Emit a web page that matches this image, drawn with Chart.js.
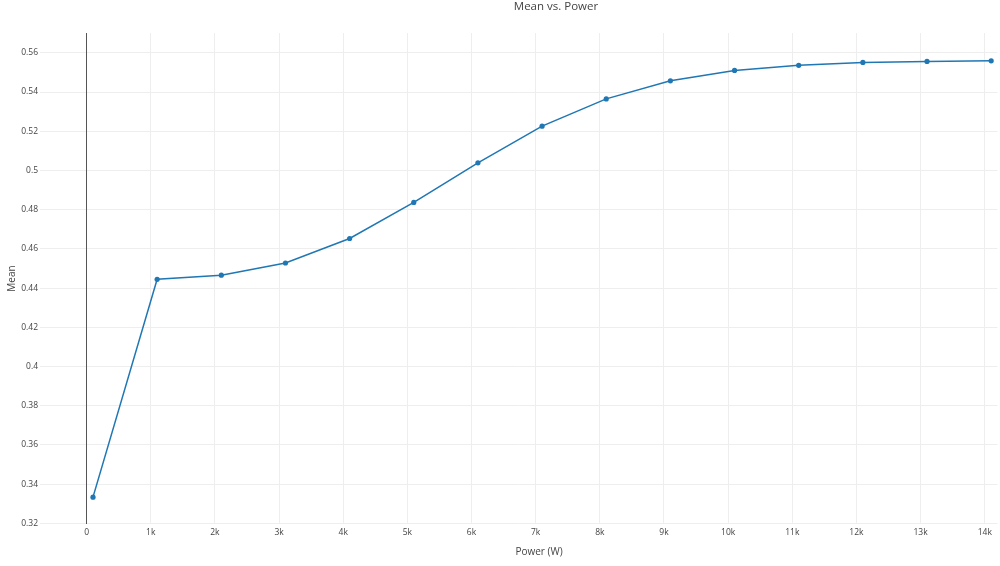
<!DOCTYPE html>
<html>
<head>
<meta charset="utf-8">
<script src="https://cdn.jsdelivr.net/npm/chart.js@4.4.1/dist/chart.umd.min.js"></script>
<style>
html,body{margin:0;padding:0;background:#fff;}
#wrap{width:1000px;height:566px;position:relative;}
</style>
</head>
<body>
<div id="wrap"><canvas id="c" width="1000" height="566"></canvas></div>
<script>
// ---- data ----
const powerW = [100, 1100, 2100, 3100, 4100, 5100, 6100, 7100, 8100, 9100, 10100, 11100, 12100, 13100, 14100];
const meanValues = [0.3334, 0.4445, 0.4466, 0.4528, 0.4653, 0.4837, 0.5039, 0.5226, 0.5365, 0.5457, 0.5510, 0.5536, 0.5551, 0.5556, 0.5559];
const xTickValues = [0, 1000, 2000, 3000, 4000, 5000, 6000, 7000, 8000, 9000, 10000, 11000, 12000, 13000, 14000];
const xTickLabels = ['0', '1k', '2k', '3k', '4k', '5k', '6k', '7k', '8k', '9k', '10k', '11k', '12k', '13k', '14k'];
const yTickValues = [0.32, 0.34, 0.36, 0.38, 0.40, 0.42, 0.44, 0.46, 0.48, 0.50, 0.52, 0.54, 0.56];
const yTickLabels = ['0.32', '0.34', '0.36', '0.38', '0.4', '0.42', '0.44', '0.46', '0.48', '0.5', '0.52', '0.54', '0.56'];
const chartTitle = 'Mean vs. Power';
const xAxisTitle = 'Power (W)';
const yAxisTitle = 'Mean';

const FONT = '"Open Sans", verdana, arial, sans-serif';
const TEXT = '#444';

const textPlugin = {
  id: 'plotlyText',
  afterDraw(chart) {
    const ctx = chart.ctx;
    ctx.save();
    ctx.fillStyle = TEXT;
    ctx.textAlign = 'center';
    ctx.textBaseline = 'middle';
    ctx.font = '11.5px ' + FONT;
    ctx.fillText(chartTitle, 556, 7);
    ctx.font = '10px ' + FONT;
    ctx.fillText(xAxisTitle, 539, 552);
    ctx.restore();
  }
};

new Chart(document.getElementById('c'), {
  type: 'line',
  data: {
    datasets: [{
      label: yAxisTitle,
      data: powerW.map((x, i) => ({x: x, y: meanValues[i]})),
      borderColor: '#1f77b4',
      backgroundColor: '#1f77b4',
      borderWidth: 1.5,
      pointRadius: 2.6,
      pointHoverRadius: 2.6,
      pointBorderWidth: 0,
      tension: 0,
      fill: false
    }]
  },
  options: {
    responsive: false,
    animation: false,
    devicePixelRatio: 1,
    layout: {padding: {top: 33, right: 0, bottom: 0, left: 0}},
    plugins: {
      legend: {display: false},
      title: {display: false},
      tooltip: {enabled: false}
    },
    scales: {
      x: {
        type: 'linear',
        min: -726,
        max: 14197,
        afterBuildTicks(scale) { scale.ticks = xTickValues.map(v => ({value: v})); },
        afterFit(scale) { scale.height = 42; },
        border: {display: false},
        grid: {
          z: -1,
          color: ctx => (ctx.tick && ctx.tick.value === 0) ? '#555' : '#eeeeee',
          lineWidth: 1,
          drawTicks: false
        },
        ticks: {
          autoSkip: false,
          maxRotation: 0,
          padding: 3,
          color: TEXT,
          font: {family: FONT, size: 8.5},
          callback: (v, i) => xTickLabels[i]
        },
        title: {display: false}
      },
      y: {
        type: 'linear',
        min: 0.3197,
        max: 0.5701,
        afterBuildTicks(scale) { scale.ticks = yTickValues.map(v => ({value: v})); },
        afterFit(scale) { scale.width = 40; },
        border: {display: false},
        grid: {z: -2, color: '#eeeeee', lineWidth: 1, drawTicks: false},
        ticks: {
          autoSkip: false,
          padding: 2,
          color: TEXT,
          font: {family: FONT, size: 8.5},
          callback: (v, i) => yTickLabels[i]
        },
        title: {
          display: true,
          text: yAxisTitle,
          color: TEXT,
          font: {family: FONT, size: 10},
          padding: {top: 6, bottom: 0}
        }
      }
    }
  },
  plugins: [textPlugin]
});
</script>
</body>
</html>
